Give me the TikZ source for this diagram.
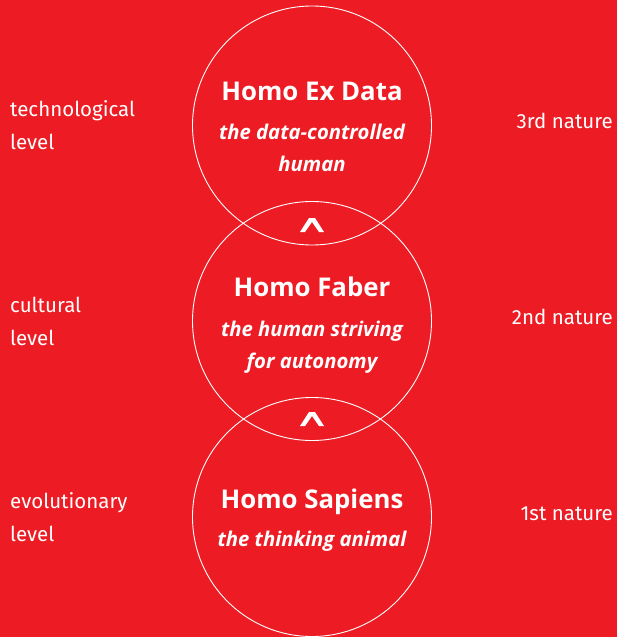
\documentclass[tikz,border=0pt]{standalone}
\usepackage{fontspec}
\setmainfont{Fira Sans}
\newfontfamily\headfont{Open Sans}
\definecolor{natred}{RGB}{237,28,36}

\tikzset{
  ring/.style={circle, draw=white, line width=0.9pt, minimum size=239pt, inner sep=0pt},
  homo/.style={text=white, anchor=base, inner sep=0pt, font=\headfont\bfseries\fontsize{25.8}{30}\selectfont},
  gloss/.style={text=white, anchor=base, inner sep=0pt, align=center, font=\headfont\bfseries\itshape\fontsize{20.3}{32}\selectfont},
  side/.style={text=white, anchor=base west, inner sep=0pt, align=left, font=\fontsize{20.5}{32.5}\selectfont},
  nature/.style={text=white, anchor=base east, inner sep=0pt, font=\fontsize{20.5}{24}\selectfont},
  caret/.style={fill=white},
}

\begin{document}
\begin{tikzpicture}[x=1pt,y=-1pt]
  \fill[natred] (0,0) rectangle (617,637);
  \useasboundingbox (0,0) rectangle (617,637);

  % the three circles, top to bottom
  \foreach \n/\y in {data/125.5, faber/321, sapiens/517}
    \node[ring] (\n) at (312,\y) {};

  % multi-line nodes sit on the baseline of their last line
  \node[homo]  (dataname) at (312,100) {Homo Ex Data};
  \node[gloss] (datagloss) at (312,171.5) {the data-controlled\\human};

  \node[homo]  (fabername) at (312,296) {Homo Faber};
  \node[gloss] (fabergloss) at (312,368) {the human striving\\for autonomy};

  \node[homo]  (sapname) at (312,508.5) {Homo Sapiens};
  \node[gloss] (sapgloss) at (312,546.5) {the thinking animal};

  % levels on the left, natures on the right
  \node[side] (techlevel) at (10,149.3) {technological\\level};
  \node[side] (cultlevel) at (10,345.3) {cultural\\level};
  \node[side] (evolevel) at (10,541.3) {evolutionary\\level};

  \node[nature] (third) at (613,128.5) {3rd nature};
  \node[nature] (second) at (613,324.5) {2nd nature};
  \node[nature] (first) at (613,520.5) {1st nature};

  % little carets where the circles overlap
  \coordinate (up1) at (312,225);
  \coordinate (up2) at (312,419);
  \foreach \c in {up1,up2}
    \fill[caret] (\c) ++(-12,7) -- ++(9,-14) -- ++(6,0) -- ++(9,14)
      -- ++(-5,0) -- ++(-7,-10) -- ++(-7,10) -- cycle;
\end{tikzpicture}
\end{document}
